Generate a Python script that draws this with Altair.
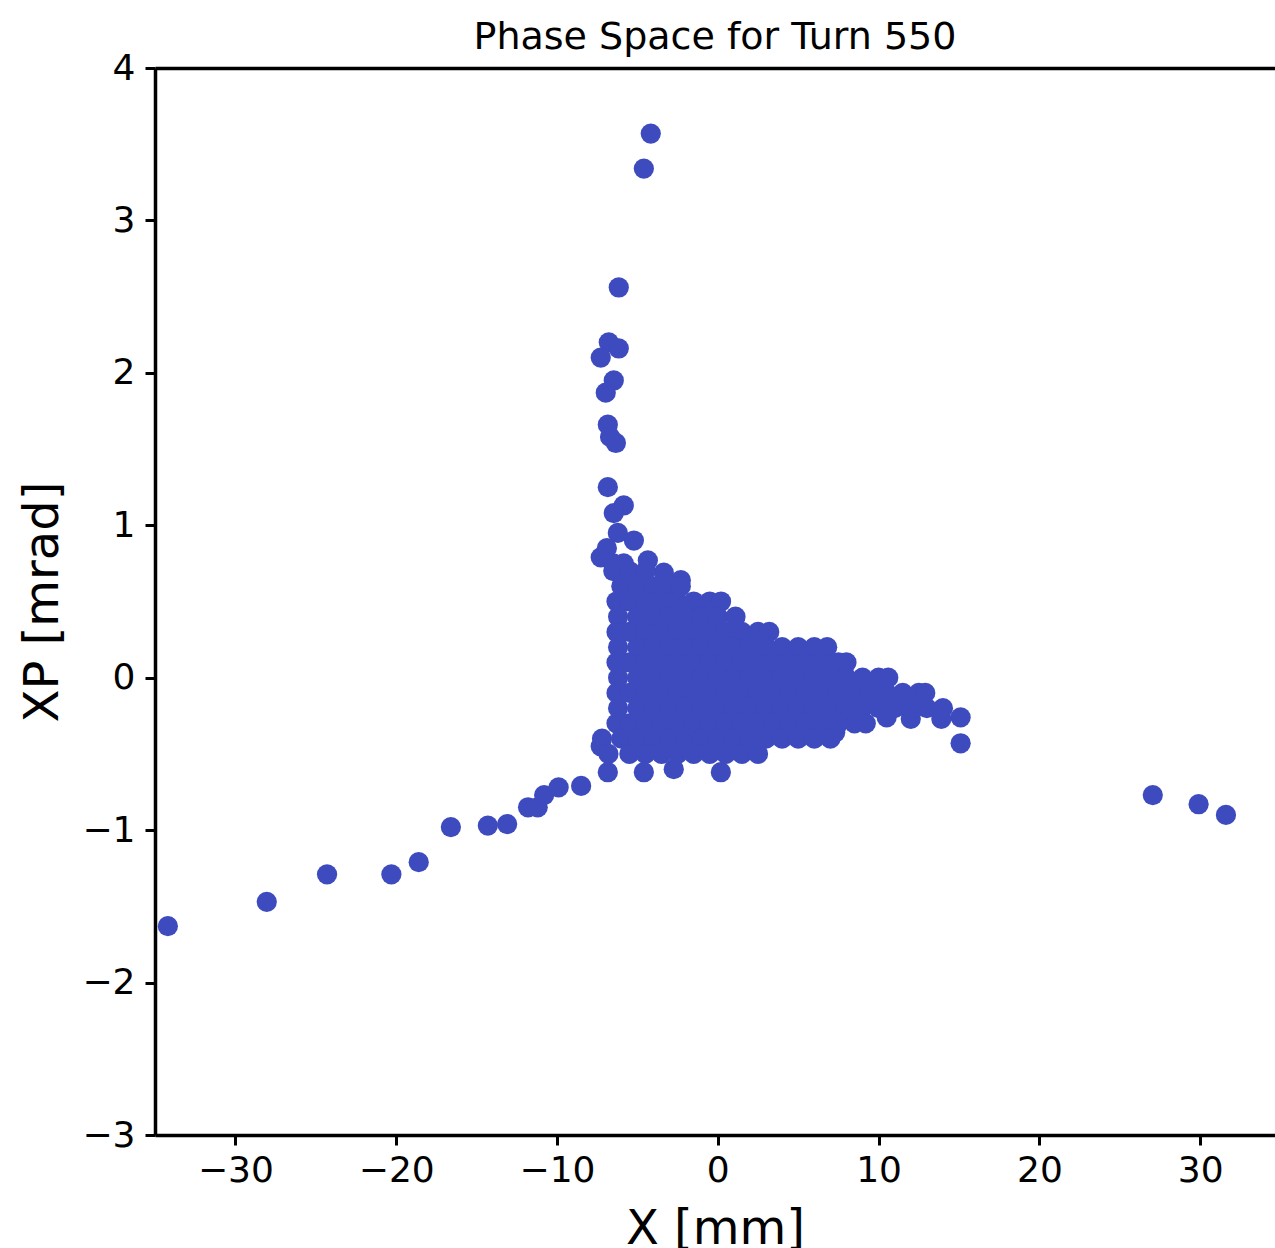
import altair as alt
import pandas as pd

# ---- data (X in mm, XP in mrad) ----
stem_x = [-4.17, -4.60, -6.16, -6.78, -6.16, -7.28, -6.47, -6.97, -6.84, -6.34, -6.70,
          -6.84, -5.85, -6.47, -6.22, -5.22, -7.28, -5.85, -4.35, -3.36, -2.30, -6.90, -6.50]
stem_xp = [3.57, 3.34, 2.56, 2.20, 2.16, 2.10, 1.95, 1.87, 1.66, 1.54, 1.58,
           1.25, 1.13, 1.08, 0.95, 0.90, 0.79, 0.75, 0.77, 0.69, 0.64, 0.85, 0.75]

tail_x = [-34.2, -28.05, -24.3, -20.3, -18.6, -16.6, -14.3, -13.1, -11.8, -11.2, -10.8, -9.9, -8.5]
tail_xp = [-1.63, -1.47, -1.29, -1.29, -1.21, -0.98, -0.97, -0.96, -0.85, -0.85, -0.77, -0.72, -0.71]

far_x = [27.05, 29.9, 31.6]
far_xp = [-0.77, -0.83, -0.90]

core_levels = [0.7, 0.6, 0.5, 0.4, 0.3, 0.2, 0.1, 0.0, -0.1, -0.2, -0.3, -0.4, -0.5]
core_rows = [
    [-6.5, -5.5, -4.5],
    [-6.0, -5.0, -4.0, -3.0, -2.3],
    [-6.3, -5.5, -4.5, -3.5, -2.5, -1.5, -0.5, 0.2],
    [-6.2, -5, -4, -3, -2, -1, 0, 1.1],
    [-6.3, -5.5, -4.5, -3.5, -2.5, -1.5, -0.5, 0.5, 1.5, 2.5, 3.2],
    [-6.2, -5, -4, -3, -2, -1, 0, 1, 2, 3, 4, 5, 6, 6.8],
    [-6.3, -5.5, -4.5, -3.5, -2.5, -1.5, -0.5, 0.5, 1.5, 2.5, 3.5, 4.5, 5.5, 6.5, 7.5, 8.0],
    [-6.2, -5, -4, -3, -2, -1, 0, 1, 2, 3, 4, 5, 6, 7, 8, 9, 10, 10.6],
    [-6.3, -5.5, -4.5, -3.5, -2.5, -1.5, -0.5, 0.5, 1.5, 2.5, 3.5, 4.5, 5.5, 6.5, 7.5, 8.5,
     9.5, 10.5, 11.5, 12.5, 12.9],
    [-6.2, -5, -4, -3, -2, -1, 0, 1, 2, 3, 4, 5, 6, 7, 8, 9, 10, 11, 12, 13, 14],
    [-6.3, -5.5, -4.5, -3.5, -2.5, -1.5, -0.5, 0.5, 1.5, 2.5, 3.5, 4.5, 5.5, 6.5, 7.5, 8.5, 9.2],
    [-7.2, -6, -5, -4, -3, -2, -1, 0, 1, 2, 3, 4, 5, 6, 7],
    [-6.8, -5.5, -4.5, -3.5, -2.5, -1.5, -0.5, 0.5, 1.5, 2.5],
]

edge_x = [-6.84, -4.6, -2.74, 0.19, 10.5, 12.0, 13.9, 15.1, 15.1, 7.3, 5.8, -7.28]
edge_xp = [-0.62, -0.62, -0.60, -0.62, -0.26, -0.27, -0.27, -0.26, -0.43, -0.36, -0.38, -0.45]

x_ticks = [-30, -20, -10, 0, 10, 20, 30]
y_ticks = [-3, -2, -1, 0, 1, 2, 3, 4]

# ---- assemble table ----
xs, xps = [], []
for a, b in [(stem_x, stem_xp), (tail_x, tail_xp), (far_x, far_xp), (edge_x, edge_xp)]:
    xs += a
    xps += b
for lvl, row in zip(core_levels, core_rows):
    xs += row
    xps += [lvl] * len(row)
df = pd.DataFrame({"x": xs, "xp": xps})

FONT = "DejaVu Sans"
xscale = alt.Scale(domain=[-35, 34.65], nice=False, zero=False)
yscale = alt.Scale(domain=[-3, 4], nice=False, zero=False)

points = alt.Chart(df).mark_circle(size=410, color="#3d4bbf", opacity=1).encode(
    x=alt.X("x:Q", scale=xscale,
            axis=alt.Axis(values=x_ticks, title="X [mm]", grid=False,
                          domainColor="black", domainWidth=3.5,
                          tickColor="black", tickWidth=3, tickSize=10,
                          labelFont=FONT, labelFontSize=36, labelColor="black",
                          labelPadding=8, labelFlush=False,
                          titleFont=FONT, titleFontSize=48, titleFontWeight="normal",
                          titleColor="black", titlePadding=17)),
    y=alt.Y("xp:Q", scale=yscale,
            axis=alt.Axis(values=y_ticks, title="XP [mrad]", grid=False,
                          domainColor="black", domainWidth=3.5,
                          tickColor="black", tickWidth=3, tickSize=10,
                          labelFont=FONT, labelFontSize=36, labelColor="black",
                          labelPadding=10, labelFlush=False,
                          titleFont=FONT, titleFontSize=48, titleFontWeight="normal",
                          titleColor="black", titlePadding=14)),
)

top_spine = alt.Chart(df).mark_circle(opacity=0).encode(
    x=alt.X("x:Q", scale=xscale,
            axis=alt.Axis(orient="top", labels=False, ticks=False, title=None, grid=False,
                          domainColor="black", domainWidth=3.5)),
)

chart = alt.layer(points, top_spine).resolve_axis(x="independent").properties(
    width=1120,
    height=1067,
    padding={"left": 155, "top": 68, "right": 0, "bottom": 113},
    autosize=alt.AutoSizeParams(type="none"),
    background="white",
    title=alt.TitleParams("Phase Space for Turn 550", font=FONT, fontSize=38,
                          fontWeight="normal", color="black", offset=11, dy=18),
).configure_view(stroke=None)

chart.save("out.html", embed_options={"renderer": "svg", "actions": False})
